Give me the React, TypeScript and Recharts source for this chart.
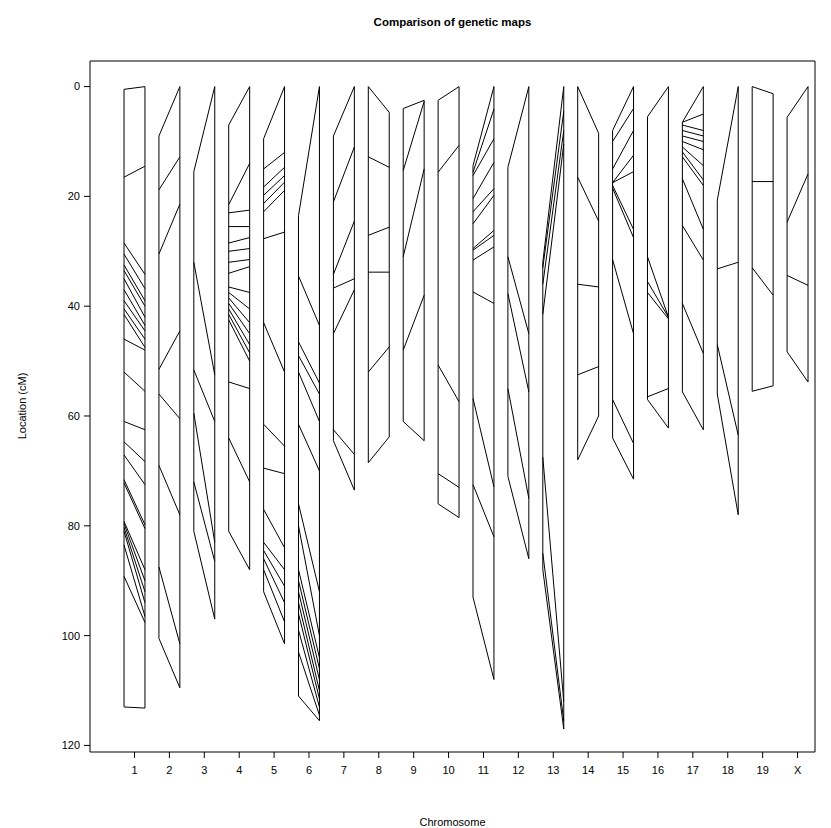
import React from 'react';
import { ComposedChart, Line, XAxis, YAxis, ReferenceArea } from 'recharts';

// chromosome labels
const chromosomes = ['1','2','3','4','5','6','7','8','9','10','11','12','13','14','15','16','17','18','19','X'];

// marker positions: [map 1 (left) cM, map 2 (right) cM]
const chr1 = [[0.5,0],[16.5,14.5],[28.5,34.2],[30.5,36.8],[32.5,39],[33.5,40],[35,42],[37,43.5],[39,44.5],[40.5,46],[41.5,47.5],[46,48],[52,55.5],[61,62.5],[64.7,68.3],[67.1,72.5],[71.6,79.8],[72.2,80.5],[79.2,88],[79.6,90],[80.3,92],[81,94],[83.5,96.5],[89.2,97.6],[113,113.2]];
const chr2 = [[9,0],[18.8,12.8],[30.5,21.4],[51.5,44.5],[56,60.5],[69,78],[87.5,101.5],[100.5,109.5]];
const chr3 = [[15.5,0],[32,52.5],[51.6,61],[59.5,83],[72,86.5],[81,97]];
const chr4 = [[7,0],[21.5,14],[23,22.5],[25.5,25.5],[28.5,27.5],[30,29.5],[32,31.5],[34,32.8],[36.5,37.5],[37.5,40.5],[38.5,43],[39.5,45],[40.5,47],[41.5,48.5],[42.5,50],[53.8,55],[64,72],[81,88]];
const chr5 = [[9.5,0],[15,12],[18.3,14.7],[19.8,16.2],[21.3,17.4],[22.8,18.9],[27.7,26.5],[43,52],[61.5,65.5],[69.5,70.5],[77,84],[83,88],[84.5,91],[86,94],[88,97.5],[92,101.5]];
const chr6 = [[23.5,0],[34.5,43.5],[46.5,54],[49,56],[52,61],[61.5,70],[76,92],[80,100],[88,104],[90,106],[92,108],[94,110],[96,111.5],[99,113],[103,114.5],[111,115.5]];
const chr7 = [[9,0],[21,11],[34.2,24.5],[36.7,35],[45,37],[62.5,67],[64.5,73.5]];
const chr8 = [[0,4.7],[12.8,14.7],[27.1,25.6],[33.8,33.8],[52,47.4],[68.5,63.8]];
const chr9 = [[4,2.5],[15.3,2.7],[31,15],[48,38],[61,64.5]];
const chr10 = [[2.5,0],[15.6,10.7],[50.7,57.4],[70.5,73],[76,78.5]];
const chr11 = [[14.4,0],[15.6,4.1],[16.2,9.5],[20.4,13.8],[22.8,18.6],[25,19.8],[29.5,26.2],[29.8,27.1],[31.6,29.2],[37.4,39.5],[56.8,72.9],[72.5,82],[93,108]];
const chr12 = [[14.7,0],[31,45],[37.7,55.6],[55,75],[71,86]];
const chr13 = [[32,0],[33,4.5],[36,8],[41.5,10.5],[67.5,112],[85,115.5],[88,117]];
const chr14 = [[0,8.5],[16.5,24.5],[36,36.5],[52.5,51],[68,60]];
const chr15 = [[8,0],[10,4],[15,8],[17.5,12.5],[17.5,15.5],[18,26],[18.5,27.5],[31.5,45],[57,65],[64,71.5]];
const chr16 = [[5.5,0],[31,42],[35.5,42],[37.5,42.3],[56.5,55],[57,62.2]];
const chr17 = [[6.5,0],[6.5,5],[7,8],[8,9],[9,10],[10,11.5],[11,14.4],[11.9,17],[12.8,18],[16.8,26],[25.3,31.6],[39.5,48.6],[55.6,62.5]];
const chr18 = [[20.7,0],[33.2,32],[47,63.5],[56,78]];
const chr19 = [[0,1.3],[17.3,17.3],[33,38],[55.5,54.5]];
const chrX = [[5.6,0],[24.7,15.9],[34.4,36.2],[48.3,53.8]];

const maps = [chr1,chr2,chr3,chr4,chr5,chr6,chr7,chr8,chr9,chr10,chr11,chr12,chr13,chr14,chr15,chr16,chr17,chr18,chr19,chrX];

const yTicks = [0, 20, 40, 60, 80, 100, 120];
const xTicks = chromosomes.map((_, i) => i + 1);
const X_DOMAIN: [number, number] = [-0.275, 20.5];
const Y_DOMAIN: [number, number] = [-4.66, 121.2];
const HALF = 0.3;

type Pt = { x: number; y: number | null };

function buildChromosome(idx: number): Pt[] {
  const pairs = maps[idx];
  const c = idx + 1;
  const L = pairs.map(p => p[0]);
  const R = pairs.map(p => p[1]);
  const pts: Pt[] = [];
  pts.push({ x: c - HALF, y: Math.min(...L) }, { x: c - HALF, y: Math.max(...L) }, { x: c - HALF, y: null });
  pts.push({ x: c + HALF, y: Math.min(...R) }, { x: c + HALF, y: Math.max(...R) }, { x: c + HALF, y: null });
  pairs.forEach(p => {
    pts.push({ x: c - HALF, y: p[0] }, { x: c + HALF, y: p[1] }, { x: c + HALF, y: null });
  });
  return pts;
}

const font = { fontFamily: 'Liberation Sans, Arial, sans-serif', fontSize: 11, fill: '#000' };

export default function App() {
  return (
    <div style={{ position: 'absolute', left: 0, top: 0, width: 831, height: 828, background: '#fff' }}>
      <div style={{ position: 'absolute', left: 90, width: 725, top: 14, textAlign: 'center', fontFamily: 'Liberation Sans, Arial, sans-serif', fontWeight: 'bold', fontSize: 11.5, lineHeight: '16px', color: '#000' }}>
        Comparison of genetic maps
      </div>
      <div style={{ position: 'absolute', left: 90, width: 725, top: 814, textAlign: 'center', fontFamily: 'Liberation Sans, Arial, sans-serif', fontSize: 11, lineHeight: '16px', color: '#000' }}>
        Chromosome
      </div>
      <div style={{ position: 'absolute', left: 22, top: 406, width: 0, height: 0 }}>
        <div style={{ position: 'absolute', left: -60, top: -8, width: 120, textAlign: 'center', transform: 'rotate(-90deg)', fontFamily: 'Liberation Sans, Arial, sans-serif', fontSize: 11, lineHeight: '16px', color: '#000', whiteSpace: 'nowrap' }}>
          Location (cM)
        </div>
      </div>
      <ComposedChart width={831} height={828} margin={{ top: 61, right: 16, bottom: 0, left: 0 }} style={{ position: 'absolute', left: 0, top: 0 }}>
        <XAxis
          type="number"
          dataKey="x"
          domain={X_DOMAIN}
          allowDataOverflow
          ticks={xTicks}
          interval={0}
          tickFormatter={(v: number) => chromosomes[v - 1]}
          height={76}
          axisLine={false}
          tickLine={{ stroke: '#000' }}
          tickSize={6}
          tickMargin={8}
          tick={font}
        />
        <YAxis
          type="number"
          dataKey="y"
          domain={Y_DOMAIN}
          allowDataOverflow
          reversed
          ticks={yTicks}
          interval={0}
          width={90}
          axisLine={false}
          tickLine={{ stroke: '#000' }}
          tickSize={6}
          tickMargin={4}
          tick={font}
        />
        <ReferenceArea x1={X_DOMAIN[0]} x2={X_DOMAIN[1]} y1={Y_DOMAIN[0]} y2={Y_DOMAIN[1]} fill="none" stroke="#000" strokeWidth={1} fillOpacity={0} ifOverflow="visible" />
        {maps.map((_, i) => (
          <Line
            key={chromosomes[i]}
            data={buildChromosome(i)}
            dataKey="y"
            stroke="#000"
            strokeWidth={1}
            dot={false}
            activeDot={false}
            connectNulls={false}
            isAnimationActive={false}
            legendType="none"
          />
        ))}
      </ComposedChart>
    </div>
  );
}
